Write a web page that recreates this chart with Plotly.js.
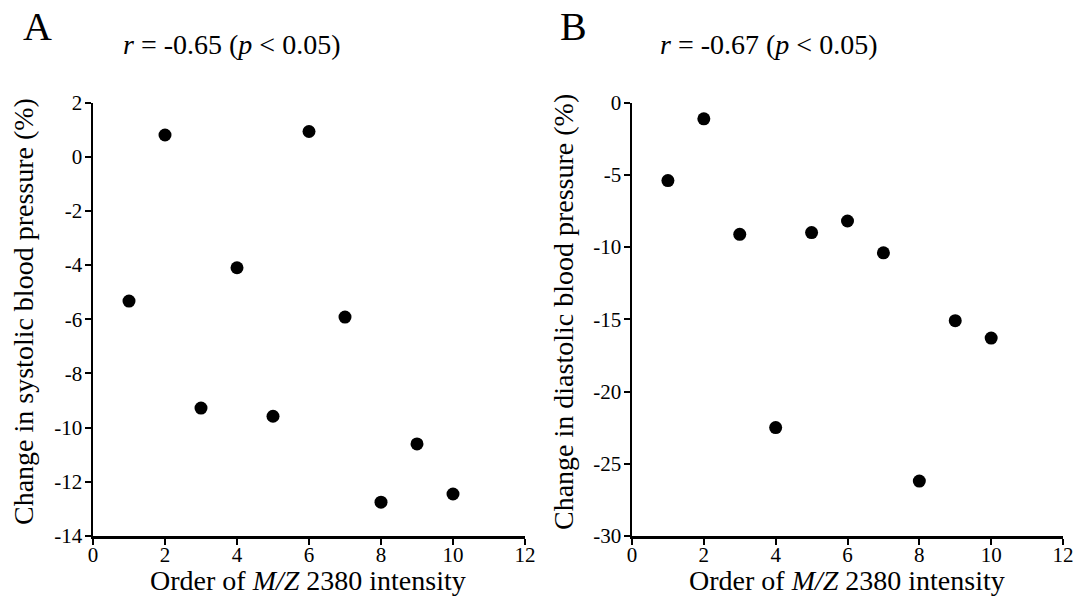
<!DOCTYPE html>
<html>
<head>
<meta charset="utf-8">
<script src="https://cdn.plot.ly/plotly-3.0.1.min.js"></script>
<style>html,body{margin:0;padding:0;background:#fff;}#chart{width:1074px;height:600px;}</style>
</head>
<body>
<div id="chart"></div>
<script>
const order = [1, 2, 3, 4, 5, 6, 7, 8, 9, 10];
const systolicChange = [-5.33, 0.8, -9.28, -4.1, -9.58, 0.93, -5.92, -12.75, -10.6, -12.45];
const diastolicChange = [-5.4, -1.13, -9.12, -22.5, -9.0, -8.2, -10.4, -26.2, -15.1, -16.3];
const xTicks = [0, 2, 4, 6, 8, 10, 12];
const yTicksA = [2, 0, -2, -4, -6, -8, -10, -12, -14];
const yTicksB = [0, -5, -10, -15, -20, -25, -30];
const titleA = "<i>r</i> = -0.65 (<i>p</i> < 0.05)";
const titleB = "<i>r</i> = -0.67 (<i>p</i> < 0.05)";
const xTitle = "Order of <i>M/Z</i> 2380 intensity";
const yTitleA = "Change in systolic blood pressure (%)";
const yTitleB = "Change in diastolic blood pressure (%)";

const W = 1074, H = 600;
const px = v => v / W;
const py = v => 1 - v / H;
const font = "'Liberation Serif', 'Times New Roman', Times, serif";

const marker = {size: 13, color: "#000"};
const traces = [
  {x: order, y: systolicChange, type: "scatter", mode: "markers", marker: marker, xaxis: "x", yaxis: "y", cliponaxis: false, hoverinfo: "x+y"},
  {x: order, y: diastolicChange, type: "scatter", mode: "markers", marker: marker, xaxis: "x2", yaxis: "y2", cliponaxis: false, hoverinfo: "x+y"}
];

function xAxis(domain, anchor) {
  return {
    domain: domain, anchor: anchor, range: [0, 12], tickvals: xTicks, ticktext: xTicks.map(String),
    showgrid: false, zeroline: false, showline: true, linecolor: "#000", linewidth: 2.5,
    ticks: "outside", ticklen: 6, tickwidth: 2, tickcolor: "#000", ticklabelstandoff: -8,
    tickfont: {family: font, size: 21, color: "#000"}, fixedrange: true
  };
}
function yAxis(range, ticks, anchor) {
  return {
    domain: [py(536), py(102.5)], anchor: anchor, range: range, tickvals: ticks, ticktext: ticks.map(String),
    showgrid: false, zeroline: false, showline: true, linecolor: "#000", linewidth: 2.5,
    ticks: "outside", ticklen: 6, tickwidth: 2, tickcolor: "#000", ticklabelstandoff: -2,
    tickfont: {family: font, size: 21, color: "#000"}, fixedrange: true
  };
}

function ann(text, x, y, size, extra) {
  return Object.assign({text: text, x: px(x), y: py(y), xref: "paper", yref: "paper",
    showarrow: false, xanchor: "center", yanchor: "middle",
    font: {family: font, size: size, color: "#000"}}, extra || {});
}

const layout = {
  width: W, height: H,
  margin: {l: 0, r: 0, t: 0, b: 0},
  paper_bgcolor: "#fff", plot_bgcolor: "#fff",
  showlegend: false,
  font: {family: font, color: "#000"},
  xaxis: xAxis([px(93), px(525)], "y"),
  yaxis: yAxis([-14, 2], yTicksA, "x"),
  xaxis2: xAxis([px(632), px(1063)], "y2"),
  yaxis2: yAxis([-30, 0], yTicksB, "x2"),
  annotations: [
    ann("A", 37, 26, 40),
    ann("B", 573, 26, 40),
    ann(titleA, 231, 44, 28),
    ann(titleB, 768, 44, 28),
    ann(xTitle, 308, 580, 28),
    ann(xTitle, 847, 580, 28),
    ann(yTitleA, 23, 312, 28, {textangle: -90}),
    ann(yTitleB, 563, 312, 28, {textangle: -90})
  ]
};

Plotly.newPlot("chart", traces, layout, {displayModeBar: false, staticPlot: true});
</script>
</body>
</html>
